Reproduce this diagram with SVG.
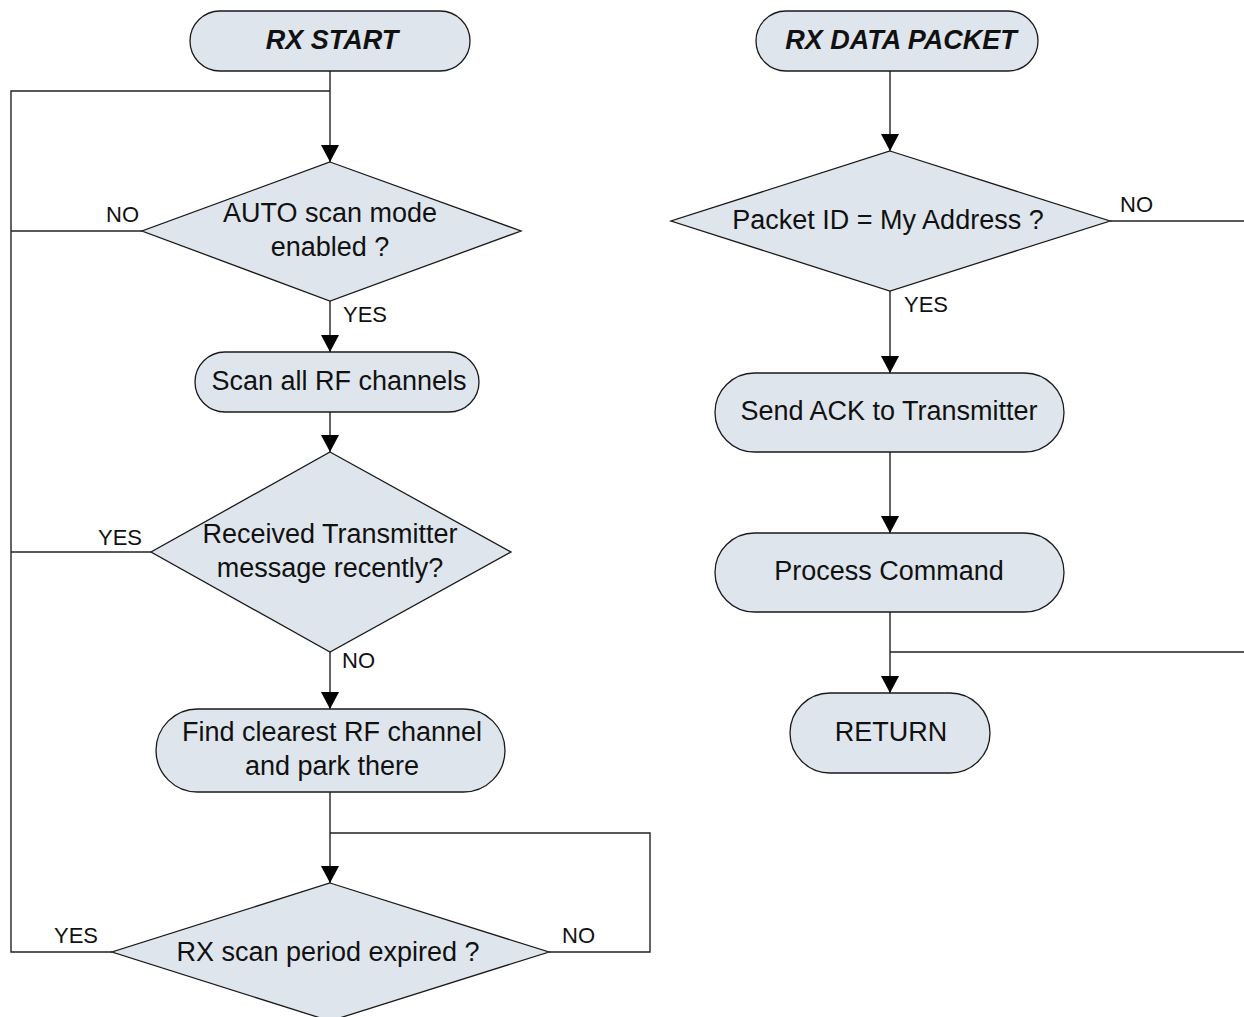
<svg xmlns="http://www.w3.org/2000/svg" width="1244" height="1017" viewBox="0 0 1244 1017">
  <style>
    .shape { fill: #dfe5ec; stroke: #1a1a1a; stroke-width: 1.3; }
    .txt { font-family: "Liberation Sans", Arial, sans-serif; font-size: 27px; fill: #111; text-anchor: middle; }
    .title { font-weight: bold; font-style: italic; }
    .lbl { font-family: "Liberation Sans", Arial, sans-serif; font-size: 22px; fill: #111; }
    .wire { fill: none; stroke: #222; stroke-width: 1.4; }
  </style>
  <defs>
    <marker id="arrow" viewBox="0 0 17 18" refX="17" refY="9" markerWidth="17" markerHeight="18" markerUnits="userSpaceOnUse" orient="auto">
      <path d="M0,0 L17,9 L0,18 Z" fill="#000"/>
    </marker>
  </defs>
  <rect width="1244" height="1017" fill="#fff"/>

  <!-- connectors -->
  <g id="connectors">
    <!-- left flow -->
    <path class="wire" d="M330,71 V162" marker-end="url(#arrow)"/>
    <path class="wire" d="M330,91 H11 V952 H112"/>
    <path class="wire" d="M142,231 H11"/>
    <path class="wire" d="M151,552 H11"/>
    <path class="wire" d="M330,301 V352" marker-end="url(#arrow)"/>
    <path class="wire" d="M330,412 V452" marker-end="url(#arrow)"/>
    <path class="wire" d="M330,652 V709" marker-end="url(#arrow)"/>
    <path class="wire" d="M330,792 V883" marker-end="url(#arrow)"/>
    <path class="wire" d="M549,952 H650 V833 H330"/>
    <!-- right flow -->
    <path class="wire" d="M890,71 V151" marker-end="url(#arrow)"/>
    <path class="wire" d="M1110,221 H1244"/>
    <path class="wire" d="M890,291 V373" marker-end="url(#arrow)"/>
    <path class="wire" d="M890,452 V533" marker-end="url(#arrow)"/>
    <path class="wire" d="M890,612 V693" marker-end="url(#arrow)"/>
    <path class="wire" d="M890,652 H1244"/>
  </g>

  <!-- branch labels -->
  <g id="labels">
    <text class="lbl" x="106" y="222">NO</text>
    <text class="lbl" x="343" y="322">YES</text>
    <text class="lbl" x="98" y="545">YES</text>
    <text class="lbl" x="342" y="668">NO</text>
    <text class="lbl" x="54" y="943">YES</text>
    <text class="lbl" x="562" y="943">NO</text>
    <text class="lbl" x="1120" y="212">NO</text>
    <text class="lbl" x="904" y="312">YES</text>
  </g>

  <!-- left flow nodes -->
  <g id="rx-start">
    <rect class="shape" x="190" y="11" width="280" height="60" rx="30"/>
    <text class="txt title" x="332" y="49">RX START</text>
  </g>
  <g id="auto-scan">
    <polygon class="shape" points="330,162 521,231 330,301 142,231"/>
    <text class="txt" x="330" y="222">AUTO scan mode</text>
    <text class="txt" x="330" y="256">enabled ?</text>
  </g>
  <g id="scan-channels">
    <rect class="shape" x="195" y="352" width="284" height="60" rx="30"/>
    <text class="txt" x="339" y="390">Scan all RF channels</text>
  </g>
  <g id="received-recently">
    <polygon class="shape" points="330,452 511,552 330,652 151,552"/>
    <text class="txt" x="330" y="543">Received Transmitter</text>
    <text class="txt" x="330" y="577">message recently?</text>
  </g>
  <g id="find-clearest">
    <rect class="shape" x="156" y="709" width="349" height="83" rx="41.5"/>
    <text class="txt" x="332" y="741">Find clearest RF channel</text>
    <text class="txt" x="332" y="775">and park there</text>
  </g>
  <g id="scan-expired">
    <polygon class="shape" points="330,883 549,952 330,1021 112,952"/>
    <text class="txt" x="328" y="961">RX scan period expired ?</text>
  </g>

  <!-- right flow nodes -->
  <g id="rx-data-packet">
    <rect class="shape" x="756" y="11" width="282" height="60" rx="30"/>
    <text class="txt title" x="901" y="49">RX DATA PACKET</text>
  </g>
  <g id="packet-id">
    <polygon class="shape" points="890,151 1110,221 890,291 671,221"/>
    <text class="txt" x="888" y="229">Packet ID = My Address ?</text>
  </g>
  <g id="send-ack">
    <rect class="shape" x="715" y="373" width="349" height="79" rx="39.5"/>
    <text class="txt" x="889" y="420">Send ACK to Transmitter</text>
  </g>
  <g id="process-command">
    <rect class="shape" x="715" y="533" width="349" height="79" rx="39.5"/>
    <text class="txt" x="889" y="580">Process Command</text>
  </g>
  <g id="return">
    <rect class="shape" x="790" y="693" width="200" height="80" rx="40"/>
    <text class="txt" x="891" y="741">RETURN</text>
  </g>
</svg>
